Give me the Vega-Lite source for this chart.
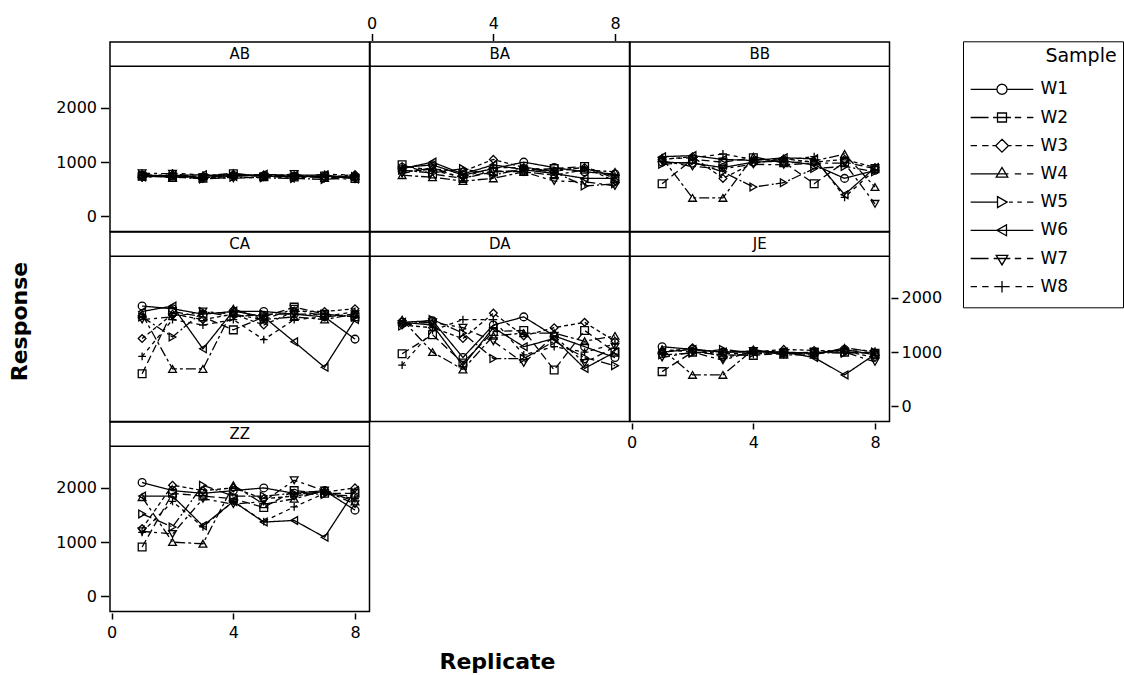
{
"$schema":"https://vega.github.io/schema/vega-lite/v6.json",
"padding":{"left":7,"top":14,"right":1,"bottom":4},
"background":"white",
"config":{
 "view":{"stroke":"black","strokeWidth":1.5},
 "axis":{"domain":false,"grid":false,"ticks":true,"tickColor":"black","tickWidth":1.5,"labelFont":"DejaVu Sans","labelFontSize":16,"labelColor":"black","titleFont":"DejaVu Sans","titleColor":"black","offset":1.5,"tickSize":7,"labelPadding":4}
},
"resolve":{"scale":{"shape":"independent","strokeDash":"independent"},"legend":{"shape":"independent"}},
"datasets":{"main":[
{"Panel":"AB","Sample":"W1","Replicate":1,"Response":760},{"Panel":"AB","Sample":"W1","Replicate":2,"Response":745},{"Panel":"AB","Sample":"W1","Replicate":3,"Response":720},{"Panel":"AB","Sample":"W1","Replicate":4,"Response":755},{"Panel":"AB","Sample":"W1","Replicate":5,"Response":745},{"Panel":"AB","Sample":"W1","Replicate":6,"Response":735},{"Panel":"AB","Sample":"W1","Replicate":7,"Response":740},{"Panel":"AB","Sample":"W1","Replicate":8,"Response":725},
{"Panel":"AB","Sample":"W2","Replicate":1,"Response":740},{"Panel":"AB","Sample":"W2","Replicate":2,"Response":720},{"Panel":"AB","Sample":"W2","Replicate":3,"Response":705},{"Panel":"AB","Sample":"W2","Replicate":4,"Response":785},{"Panel":"AB","Sample":"W2","Replicate":5,"Response":730},{"Panel":"AB","Sample":"W2","Replicate":6,"Response":725},{"Panel":"AB","Sample":"W2","Replicate":7,"Response":745},{"Panel":"AB","Sample":"W2","Replicate":8,"Response":700},
{"Panel":"AB","Sample":"W3","Replicate":1,"Response":720},{"Panel":"AB","Sample":"W3","Replicate":2,"Response":765},{"Panel":"AB","Sample":"W3","Replicate":3,"Response":700},{"Panel":"AB","Sample":"W3","Replicate":4,"Response":745},{"Panel":"AB","Sample":"W3","Replicate":5,"Response":765},{"Panel":"AB","Sample":"W3","Replicate":6,"Response":730},{"Panel":"AB","Sample":"W3","Replicate":7,"Response":720},{"Panel":"AB","Sample":"W3","Replicate":8,"Response":770},
{"Panel":"AB","Sample":"W4","Replicate":1,"Response":785},{"Panel":"AB","Sample":"W4","Replicate":2,"Response":705},{"Panel":"AB","Sample":"W4","Replicate":3,"Response":745},{"Panel":"AB","Sample":"W4","Replicate":4,"Response":795},{"Panel":"AB","Sample":"W4","Replicate":5,"Response":740},{"Panel":"AB","Sample":"W4","Replicate":6,"Response":760},{"Panel":"AB","Sample":"W4","Replicate":7,"Response":705},{"Panel":"AB","Sample":"W4","Replicate":8,"Response":745},
{"Panel":"AB","Sample":"W5","Replicate":1,"Response":750},{"Panel":"AB","Sample":"W5","Replicate":2,"Response":730},{"Panel":"AB","Sample":"W5","Replicate":3,"Response":690},{"Panel":"AB","Sample":"W5","Replicate":4,"Response":720},{"Panel":"AB","Sample":"W5","Replicate":5,"Response":710},{"Panel":"AB","Sample":"W5","Replicate":6,"Response":700},{"Panel":"AB","Sample":"W5","Replicate":7,"Response":680},{"Panel":"AB","Sample":"W5","Replicate":8,"Response":735},
{"Panel":"AB","Sample":"W6","Replicate":1,"Response":725},{"Panel":"AB","Sample":"W6","Replicate":2,"Response":755},{"Panel":"AB","Sample":"W6","Replicate":3,"Response":765},{"Panel":"AB","Sample":"W6","Replicate":4,"Response":735},{"Panel":"AB","Sample":"W6","Replicate":5,"Response":775},{"Panel":"AB","Sample":"W6","Replicate":6,"Response":755},{"Panel":"AB","Sample":"W6","Replicate":7,"Response":765},{"Panel":"AB","Sample":"W6","Replicate":8,"Response":690},
{"Panel":"AB","Sample":"W7","Replicate":1,"Response":795},{"Panel":"AB","Sample":"W7","Replicate":2,"Response":785},{"Panel":"AB","Sample":"W7","Replicate":3,"Response":720},{"Panel":"AB","Sample":"W7","Replicate":4,"Response":700},{"Panel":"AB","Sample":"W7","Replicate":5,"Response":725},{"Panel":"AB","Sample":"W7","Replicate":6,"Response":780},{"Panel":"AB","Sample":"W7","Replicate":7,"Response":700},{"Panel":"AB","Sample":"W7","Replicate":8,"Response":685},
{"Panel":"AB","Sample":"W8","Replicate":1,"Response":705},{"Panel":"AB","Sample":"W8","Replicate":2,"Response":800},{"Panel":"AB","Sample":"W8","Replicate":3,"Response":760},{"Panel":"AB","Sample":"W8","Replicate":4,"Response":770},{"Panel":"AB","Sample":"W8","Replicate":5,"Response":760},{"Panel":"AB","Sample":"W8","Replicate":6,"Response":690},{"Panel":"AB","Sample":"W8","Replicate":7,"Response":780},{"Panel":"AB","Sample":"W8","Replicate":8,"Response":755},
{"Panel":"BA","Sample":"W1","Replicate":1,"Response":900},{"Panel":"BA","Sample":"W1","Replicate":2,"Response":950},{"Panel":"BA","Sample":"W1","Replicate":3,"Response":760},{"Panel":"BA","Sample":"W1","Replicate":4,"Response":880},{"Panel":"BA","Sample":"W1","Replicate":5,"Response":1000},{"Panel":"BA","Sample":"W1","Replicate":6,"Response":900},{"Panel":"BA","Sample":"W1","Replicate":7,"Response":820},{"Panel":"BA","Sample":"W1","Replicate":8,"Response":780},
{"Panel":"BA","Sample":"W2","Replicate":1,"Response":950},{"Panel":"BA","Sample":"W2","Replicate":2,"Response":780},{"Panel":"BA","Sample":"W2","Replicate":3,"Response":700},{"Panel":"BA","Sample":"W2","Replicate":4,"Response":820},{"Panel":"BA","Sample":"W2","Replicate":5,"Response":850},{"Panel":"BA","Sample":"W2","Replicate":6,"Response":880},{"Panel":"BA","Sample":"W2","Replicate":7,"Response":920},{"Panel":"BA","Sample":"W2","Replicate":8,"Response":700},
{"Panel":"BA","Sample":"W3","Replicate":1,"Response":820},{"Panel":"BA","Sample":"W3","Replicate":2,"Response":870},{"Panel":"BA","Sample":"W3","Replicate":3,"Response":830},{"Panel":"BA","Sample":"W3","Replicate":4,"Response":1050},{"Panel":"BA","Sample":"W3","Replicate":5,"Response":900},{"Panel":"BA","Sample":"W3","Replicate":6,"Response":830},{"Panel":"BA","Sample":"W3","Replicate":7,"Response":900},{"Panel":"BA","Sample":"W3","Replicate":8,"Response":650},
{"Panel":"BA","Sample":"W4","Replicate":1,"Response":760},{"Panel":"BA","Sample":"W4","Replicate":2,"Response":720},{"Panel":"BA","Sample":"W4","Replicate":3,"Response":650},{"Panel":"BA","Sample":"W4","Replicate":4,"Response":700},{"Panel":"BA","Sample":"W4","Replicate":5,"Response":820},{"Panel":"BA","Sample":"W4","Replicate":6,"Response":760},{"Panel":"BA","Sample":"W4","Replicate":7,"Response":860},{"Panel":"BA","Sample":"W4","Replicate":8,"Response":820},
{"Panel":"BA","Sample":"W5","Replicate":1,"Response":850},{"Panel":"BA","Sample":"W5","Replicate":2,"Response":800},{"Panel":"BA","Sample":"W5","Replicate":3,"Response":880},{"Panel":"BA","Sample":"W5","Replicate":4,"Response":760},{"Panel":"BA","Sample":"W5","Replicate":5,"Response":880},{"Panel":"BA","Sample":"W5","Replicate":6,"Response":820},{"Panel":"BA","Sample":"W5","Replicate":7,"Response":560},{"Panel":"BA","Sample":"W5","Replicate":8,"Response":600},
{"Panel":"BA","Sample":"W6","Replicate":1,"Response":880},{"Panel":"BA","Sample":"W6","Replicate":2,"Response":1000},{"Panel":"BA","Sample":"W6","Replicate":3,"Response":780},{"Panel":"BA","Sample":"W6","Replicate":4,"Response":950},{"Panel":"BA","Sample":"W6","Replicate":5,"Response":860},{"Panel":"BA","Sample":"W6","Replicate":6,"Response":790},{"Panel":"BA","Sample":"W6","Replicate":7,"Response":700},{"Panel":"BA","Sample":"W6","Replicate":8,"Response":700},
{"Panel":"BA","Sample":"W7","Replicate":1,"Response":790},{"Panel":"BA","Sample":"W7","Replicate":2,"Response":900},{"Panel":"BA","Sample":"W7","Replicate":3,"Response":700},{"Panel":"BA","Sample":"W7","Replicate":4,"Response":840},{"Panel":"BA","Sample":"W7","Replicate":5,"Response":820},{"Panel":"BA","Sample":"W7","Replicate":6,"Response":650},{"Panel":"BA","Sample":"W7","Replicate":7,"Response":640},{"Panel":"BA","Sample":"W7","Replicate":8,"Response":560},
{"Panel":"BA","Sample":"W8","Replicate":1,"Response":930},{"Panel":"BA","Sample":"W8","Replicate":2,"Response":850},{"Panel":"BA","Sample":"W8","Replicate":3,"Response":720},{"Panel":"BA","Sample":"W8","Replicate":4,"Response":900},{"Panel":"BA","Sample":"W8","Replicate":5,"Response":900},{"Panel":"BA","Sample":"W8","Replicate":6,"Response":850},{"Panel":"BA","Sample":"W8","Replicate":7,"Response":900},{"Panel":"BA","Sample":"W8","Replicate":8,"Response":740},
{"Panel":"BB","Sample":"W1","Replicate":1,"Response":1000},{"Panel":"BB","Sample":"W1","Replicate":2,"Response":980},{"Panel":"BB","Sample":"W1","Replicate":3,"Response":900},{"Panel":"BB","Sample":"W1","Replicate":4,"Response":1000},{"Panel":"BB","Sample":"W1","Replicate":5,"Response":1020},{"Panel":"BB","Sample":"W1","Replicate":6,"Response":950},{"Panel":"BB","Sample":"W1","Replicate":7,"Response":700},{"Panel":"BB","Sample":"W1","Replicate":8,"Response":850},
{"Panel":"BB","Sample":"W2","Replicate":1,"Response":600},{"Panel":"BB","Sample":"W2","Replicate":2,"Response":1050},{"Panel":"BB","Sample":"W2","Replicate":3,"Response":1000},{"Panel":"BB","Sample":"W2","Replicate":4,"Response":1080},{"Panel":"BB","Sample":"W2","Replicate":5,"Response":1000},{"Panel":"BB","Sample":"W2","Replicate":6,"Response":600},{"Panel":"BB","Sample":"W2","Replicate":7,"Response":1000},{"Panel":"BB","Sample":"W2","Replicate":8,"Response":880},
{"Panel":"BB","Sample":"W3","Replicate":1,"Response":1050},{"Panel":"BB","Sample":"W3","Replicate":2,"Response":1100},{"Panel":"BB","Sample":"W3","Replicate":3,"Response":700},{"Panel":"BB","Sample":"W3","Replicate":4,"Response":980},{"Panel":"BB","Sample":"W3","Replicate":5,"Response":1060},{"Panel":"BB","Sample":"W3","Replicate":6,"Response":1000},{"Panel":"BB","Sample":"W3","Replicate":7,"Response":1050},{"Panel":"BB","Sample":"W3","Replicate":8,"Response":900},
{"Panel":"BB","Sample":"W4","Replicate":1,"Response":1080},{"Panel":"BB","Sample":"W4","Replicate":2,"Response":340},{"Panel":"BB","Sample":"W4","Replicate":3,"Response":340},{"Panel":"BB","Sample":"W4","Replicate":4,"Response":1100},{"Panel":"BB","Sample":"W4","Replicate":5,"Response":980},{"Panel":"BB","Sample":"W4","Replicate":6,"Response":1020},{"Panel":"BB","Sample":"W4","Replicate":7,"Response":1150},{"Panel":"BB","Sample":"W4","Replicate":8,"Response":540},
{"Panel":"BB","Sample":"W5","Replicate":1,"Response":960},{"Panel":"BB","Sample":"W5","Replicate":2,"Response":1000},{"Panel":"BB","Sample":"W5","Replicate":3,"Response":820},{"Panel":"BB","Sample":"W5","Replicate":4,"Response":540},{"Panel":"BB","Sample":"W5","Replicate":5,"Response":620},{"Panel":"BB","Sample":"W5","Replicate":6,"Response":880},{"Panel":"BB","Sample":"W5","Replicate":7,"Response":920},{"Panel":"BB","Sample":"W5","Replicate":8,"Response":820},
{"Panel":"BB","Sample":"W6","Replicate":1,"Response":1100},{"Panel":"BB","Sample":"W6","Replicate":2,"Response":1120},{"Panel":"BB","Sample":"W6","Replicate":3,"Response":1050},{"Panel":"BB","Sample":"W6","Replicate":4,"Response":1030},{"Panel":"BB","Sample":"W6","Replicate":5,"Response":1080},{"Panel":"BB","Sample":"W6","Replicate":6,"Response":1060},{"Panel":"BB","Sample":"W6","Replicate":7,"Response":400},{"Panel":"BB","Sample":"W6","Replicate":8,"Response":900},
{"Panel":"BB","Sample":"W7","Replicate":1,"Response":1020},{"Panel":"BB","Sample":"W7","Replicate":2,"Response":920},{"Panel":"BB","Sample":"W7","Replicate":3,"Response":880},{"Panel":"BB","Sample":"W7","Replicate":4,"Response":960},{"Panel":"BB","Sample":"W7","Replicate":5,"Response":950},{"Panel":"BB","Sample":"W7","Replicate":6,"Response":980},{"Panel":"BB","Sample":"W7","Replicate":7,"Response":980},{"Panel":"BB","Sample":"W7","Replicate":8,"Response":230},
{"Panel":"BB","Sample":"W8","Replicate":1,"Response":1060},{"Panel":"BB","Sample":"W8","Replicate":2,"Response":1080},{"Panel":"BB","Sample":"W8","Replicate":3,"Response":1150},{"Panel":"BB","Sample":"W8","Replicate":4,"Response":1050},{"Panel":"BB","Sample":"W8","Replicate":5,"Response":1040},{"Panel":"BB","Sample":"W8","Replicate":6,"Response":1100},{"Panel":"BB","Sample":"W8","Replicate":7,"Response":350},{"Panel":"BB","Sample":"W8","Replicate":8,"Response":860},
{"Panel":"CA","Sample":"W1","Replicate":1,"Response":1850},{"Panel":"CA","Sample":"W1","Replicate":2,"Response":1800},{"Panel":"CA","Sample":"W1","Replicate":3,"Response":1700},{"Panel":"CA","Sample":"W1","Replicate":4,"Response":1750},{"Panel":"CA","Sample":"W1","Replicate":5,"Response":1750},{"Panel":"CA","Sample":"W1","Replicate":6,"Response":1700},{"Panel":"CA","Sample":"W1","Replicate":7,"Response":1650},{"Panel":"CA","Sample":"W1","Replicate":8,"Response":1240},
{"Panel":"CA","Sample":"W2","Replicate":1,"Response":600},{"Panel":"CA","Sample":"W2","Replicate":2,"Response":1750},{"Panel":"CA","Sample":"W2","Replicate":3,"Response":1650},{"Panel":"CA","Sample":"W2","Replicate":4,"Response":1410},{"Panel":"CA","Sample":"W2","Replicate":5,"Response":1650},{"Panel":"CA","Sample":"W2","Replicate":6,"Response":1830},{"Panel":"CA","Sample":"W2","Replicate":7,"Response":1700},{"Panel":"CA","Sample":"W2","Replicate":8,"Response":1650},
{"Panel":"CA","Sample":"W3","Replicate":1,"Response":1250},{"Panel":"CA","Sample":"W3","Replicate":2,"Response":1700},{"Panel":"CA","Sample":"W3","Replicate":3,"Response":1600},{"Panel":"CA","Sample":"W3","Replicate":4,"Response":1700},{"Panel":"CA","Sample":"W3","Replicate":5,"Response":1500},{"Panel":"CA","Sample":"W3","Replicate":6,"Response":1750},{"Panel":"CA","Sample":"W3","Replicate":7,"Response":1750},{"Panel":"CA","Sample":"W3","Replicate":8,"Response":1800},
{"Panel":"CA","Sample":"W4","Replicate":1,"Response":1700},{"Panel":"CA","Sample":"W4","Replicate":2,"Response":690},{"Panel":"CA","Sample":"W4","Replicate":3,"Response":690},{"Panel":"CA","Sample":"W4","Replicate":4,"Response":1800},{"Panel":"CA","Sample":"W4","Replicate":5,"Response":1600},{"Panel":"CA","Sample":"W4","Replicate":6,"Response":1650},{"Panel":"CA","Sample":"W4","Replicate":7,"Response":1600},{"Panel":"CA","Sample":"W4","Replicate":8,"Response":1700},
{"Panel":"CA","Sample":"W5","Replicate":1,"Response":1650},{"Panel":"CA","Sample":"W5","Replicate":2,"Response":1280},{"Panel":"CA","Sample":"W5","Replicate":3,"Response":1750},{"Panel":"CA","Sample":"W5","Replicate":4,"Response":1650},{"Panel":"CA","Sample":"W5","Replicate":5,"Response":1700},{"Panel":"CA","Sample":"W5","Replicate":6,"Response":1700},{"Panel":"CA","Sample":"W5","Replicate":7,"Response":1700},{"Panel":"CA","Sample":"W5","Replicate":8,"Response":1650},
{"Panel":"CA","Sample":"W6","Replicate":1,"Response":1750},{"Panel":"CA","Sample":"W6","Replicate":2,"Response":1850},{"Panel":"CA","Sample":"W6","Replicate":3,"Response":1060},{"Panel":"CA","Sample":"W6","Replicate":4,"Response":1760},{"Panel":"CA","Sample":"W6","Replicate":5,"Response":1650},{"Panel":"CA","Sample":"W6","Replicate":6,"Response":1190},{"Panel":"CA","Sample":"W6","Replicate":7,"Response":720},{"Panel":"CA","Sample":"W6","Replicate":8,"Response":1600},
{"Panel":"CA","Sample":"W7","Replicate":1,"Response":1600},{"Panel":"CA","Sample":"W7","Replicate":2,"Response":1650},{"Panel":"CA","Sample":"W7","Replicate":3,"Response":1750},{"Panel":"CA","Sample":"W7","Replicate":4,"Response":1700},{"Panel":"CA","Sample":"W7","Replicate":5,"Response":1600},{"Panel":"CA","Sample":"W7","Replicate":6,"Response":1800},{"Panel":"CA","Sample":"W7","Replicate":7,"Response":1650},{"Panel":"CA","Sample":"W7","Replicate":8,"Response":1700},
{"Panel":"CA","Sample":"W8","Replicate":1,"Response":920},{"Panel":"CA","Sample":"W8","Replicate":2,"Response":1600},{"Panel":"CA","Sample":"W8","Replicate":3,"Response":1500},{"Panel":"CA","Sample":"W8","Replicate":4,"Response":1600},{"Panel":"CA","Sample":"W8","Replicate":5,"Response":1230},{"Panel":"CA","Sample":"W8","Replicate":6,"Response":1600},{"Panel":"CA","Sample":"W8","Replicate":7,"Response":1650},{"Panel":"CA","Sample":"W8","Replicate":8,"Response":1750},
{"Panel":"DA","Sample":"W1","Replicate":1,"Response":1550},{"Panel":"DA","Sample":"W1","Replicate":2,"Response":1580},{"Panel":"DA","Sample":"W1","Replicate":3,"Response":900},{"Panel":"DA","Sample":"W1","Replicate":4,"Response":1500},{"Panel":"DA","Sample":"W1","Replicate":5,"Response":1650},{"Panel":"DA","Sample":"W1","Replicate":6,"Response":1300},{"Panel":"DA","Sample":"W1","Replicate":7,"Response":1100},{"Panel":"DA","Sample":"W1","Replicate":8,"Response":900},
{"Panel":"DA","Sample":"W2","Replicate":1,"Response":970},{"Panel":"DA","Sample":"W2","Replicate":2,"Response":1320},{"Panel":"DA","Sample":"W2","Replicate":3,"Response":800},{"Panel":"DA","Sample":"W2","Replicate":4,"Response":1380},{"Panel":"DA","Sample":"W2","Replicate":5,"Response":1400},{"Panel":"DA","Sample":"W2","Replicate":6,"Response":670},{"Panel":"DA","Sample":"W2","Replicate":7,"Response":1400},{"Panel":"DA","Sample":"W2","Replicate":8,"Response":1000},
{"Panel":"DA","Sample":"W3","Replicate":1,"Response":1500},{"Panel":"DA","Sample":"W3","Replicate":2,"Response":1450},{"Panel":"DA","Sample":"W3","Replicate":3,"Response":1250},{"Panel":"DA","Sample":"W3","Replicate":4,"Response":1720},{"Panel":"DA","Sample":"W3","Replicate":5,"Response":1300},{"Panel":"DA","Sample":"W3","Replicate":6,"Response":1450},{"Panel":"DA","Sample":"W3","Replicate":7,"Response":1550},{"Panel":"DA","Sample":"W3","Replicate":8,"Response":1200},
{"Panel":"DA","Sample":"W4","Replicate":1,"Response":1600},{"Panel":"DA","Sample":"W4","Replicate":2,"Response":1000},{"Panel":"DA","Sample":"W4","Replicate":3,"Response":680},{"Panel":"DA","Sample":"W4","Replicate":4,"Response":1300},{"Panel":"DA","Sample":"W4","Replicate":5,"Response":1350},{"Panel":"DA","Sample":"W4","Replicate":6,"Response":1350},{"Panel":"DA","Sample":"W4","Replicate":7,"Response":1200},{"Panel":"DA","Sample":"W4","Replicate":8,"Response":1300},
{"Panel":"DA","Sample":"W5","Replicate":1,"Response":1480},{"Panel":"DA","Sample":"W5","Replicate":2,"Response":1600},{"Panel":"DA","Sample":"W5","Replicate":3,"Response":1350},{"Panel":"DA","Sample":"W5","Replicate":4,"Response":880},{"Panel":"DA","Sample":"W5","Replicate":5,"Response":880},{"Panel":"DA","Sample":"W5","Replicate":6,"Response":1200},{"Panel":"DA","Sample":"W5","Replicate":7,"Response":900},{"Panel":"DA","Sample":"W5","Replicate":8,"Response":750},
{"Panel":"DA","Sample":"W6","Replicate":1,"Response":1550},{"Panel":"DA","Sample":"W6","Replicate":2,"Response":1500},{"Panel":"DA","Sample":"W6","Replicate":3,"Response":750},{"Panel":"DA","Sample":"W6","Replicate":4,"Response":1450},{"Panel":"DA","Sample":"W6","Replicate":5,"Response":1100},{"Panel":"DA","Sample":"W6","Replicate":6,"Response":1250},{"Panel":"DA","Sample":"W6","Replicate":7,"Response":700},{"Panel":"DA","Sample":"W6","Replicate":8,"Response":1000},
{"Panel":"DA","Sample":"W7","Replicate":1,"Response":1520},{"Panel":"DA","Sample":"W7","Replicate":2,"Response":1550},{"Panel":"DA","Sample":"W7","Replicate":3,"Response":1450},{"Panel":"DA","Sample":"W7","Replicate":4,"Response":1200},{"Panel":"DA","Sample":"W7","Replicate":5,"Response":800},{"Panel":"DA","Sample":"W7","Replicate":6,"Response":1300},{"Panel":"DA","Sample":"W7","Replicate":7,"Response":800},{"Panel":"DA","Sample":"W7","Replicate":8,"Response":1100},
{"Panel":"DA","Sample":"W8","Replicate":1,"Response":760},{"Panel":"DA","Sample":"W8","Replicate":2,"Response":1400},{"Panel":"DA","Sample":"W8","Replicate":3,"Response":1600},{"Panel":"DA","Sample":"W8","Replicate":4,"Response":1600},{"Panel":"DA","Sample":"W8","Replicate":5,"Response":950},{"Panel":"DA","Sample":"W8","Replicate":6,"Response":1100},{"Panel":"DA","Sample":"W8","Replicate":7,"Response":1000},{"Panel":"DA","Sample":"W8","Replicate":8,"Response":1150},
{"Panel":"JE","Sample":"W1","Replicate":1,"Response":1100},{"Panel":"JE","Sample":"W1","Replicate":2,"Response":1050},{"Panel":"JE","Sample":"W1","Replicate":3,"Response":1000},{"Panel":"JE","Sample":"W1","Replicate":4,"Response":1020},{"Panel":"JE","Sample":"W1","Replicate":5,"Response":1000},{"Panel":"JE","Sample":"W1","Replicate":6,"Response":980},{"Panel":"JE","Sample":"W1","Replicate":7,"Response":1050},{"Panel":"JE","Sample":"W1","Replicate":8,"Response":950},
{"Panel":"JE","Sample":"W2","Replicate":1,"Response":640},{"Panel":"JE","Sample":"W2","Replicate":2,"Response":1000},{"Panel":"JE","Sample":"W2","Replicate":3,"Response":950},{"Panel":"JE","Sample":"W2","Replicate":4,"Response":940},{"Panel":"JE","Sample":"W2","Replicate":5,"Response":980},{"Panel":"JE","Sample":"W2","Replicate":6,"Response":1000},{"Panel":"JE","Sample":"W2","Replicate":7,"Response":1000},{"Panel":"JE","Sample":"W2","Replicate":8,"Response":980},
{"Panel":"JE","Sample":"W3","Replicate":1,"Response":1000},{"Panel":"JE","Sample":"W3","Replicate":2,"Response":1080},{"Panel":"JE","Sample":"W3","Replicate":3,"Response":900},{"Panel":"JE","Sample":"W3","Replicate":4,"Response":1000},{"Panel":"JE","Sample":"W3","Replicate":5,"Response":1050},{"Panel":"JE","Sample":"W3","Replicate":6,"Response":1030},{"Panel":"JE","Sample":"W3","Replicate":7,"Response":1020},{"Panel":"JE","Sample":"W3","Replicate":8,"Response":900},
{"Panel":"JE","Sample":"W4","Replicate":1,"Response":1050},{"Panel":"JE","Sample":"W4","Replicate":2,"Response":580},{"Panel":"JE","Sample":"W4","Replicate":3,"Response":580},{"Panel":"JE","Sample":"W4","Replicate":4,"Response":1050},{"Panel":"JE","Sample":"W4","Replicate":5,"Response":950},{"Panel":"JE","Sample":"W4","Replicate":6,"Response":950},{"Panel":"JE","Sample":"W4","Replicate":7,"Response":1080},{"Panel":"JE","Sample":"W4","Replicate":8,"Response":1000},
{"Panel":"JE","Sample":"W5","Replicate":1,"Response":950},{"Panel":"JE","Sample":"W5","Replicate":2,"Response":980},{"Panel":"JE","Sample":"W5","Replicate":3,"Response":1050},{"Panel":"JE","Sample":"W5","Replicate":4,"Response":980},{"Panel":"JE","Sample":"W5","Replicate":5,"Response":980},{"Panel":"JE","Sample":"W5","Replicate":6,"Response":990},{"Panel":"JE","Sample":"W5","Replicate":7,"Response":980},{"Panel":"JE","Sample":"W5","Replicate":8,"Response":1000},
{"Panel":"JE","Sample":"W6","Replicate":1,"Response":1000},{"Panel":"JE","Sample":"W6","Replicate":2,"Response":1050},{"Panel":"JE","Sample":"W6","Replicate":3,"Response":1000},{"Panel":"JE","Sample":"W6","Replicate":4,"Response":1000},{"Panel":"JE","Sample":"W6","Replicate":5,"Response":1000},{"Panel":"JE","Sample":"W6","Replicate":6,"Response":900},{"Panel":"JE","Sample":"W6","Replicate":7,"Response":580},{"Panel":"JE","Sample":"W6","Replicate":8,"Response":960},
{"Panel":"JE","Sample":"W7","Replicate":1,"Response":900},{"Panel":"JE","Sample":"W7","Replicate":2,"Response":1000},{"Panel":"JE","Sample":"W7","Replicate":3,"Response":850},{"Panel":"JE","Sample":"W7","Replicate":4,"Response":1020},{"Panel":"JE","Sample":"W7","Replicate":5,"Response":960},{"Panel":"JE","Sample":"W7","Replicate":6,"Response":1000},{"Panel":"JE","Sample":"W7","Replicate":7,"Response":1000},{"Panel":"JE","Sample":"W7","Replicate":8,"Response":820},
{"Panel":"JE","Sample":"W8","Replicate":1,"Response":1050},{"Panel":"JE","Sample":"W8","Replicate":2,"Response":1000},{"Panel":"JE","Sample":"W8","Replicate":3,"Response":980},{"Panel":"JE","Sample":"W8","Replicate":4,"Response":960},{"Panel":"JE","Sample":"W8","Replicate":5,"Response":1000},{"Panel":"JE","Sample":"W8","Replicate":6,"Response":960},{"Panel":"JE","Sample":"W8","Replicate":7,"Response":1050},{"Panel":"JE","Sample":"W8","Replicate":8,"Response":1020},
{"Panel":"ZZ","Sample":"W1","Replicate":1,"Response":2100},{"Panel":"ZZ","Sample":"W1","Replicate":2,"Response":1950},{"Panel":"ZZ","Sample":"W1","Replicate":3,"Response":1900},{"Panel":"ZZ","Sample":"W1","Replicate":4,"Response":1950},{"Panel":"ZZ","Sample":"W1","Replicate":5,"Response":2000},{"Panel":"ZZ","Sample":"W1","Replicate":6,"Response":1900},{"Panel":"ZZ","Sample":"W1","Replicate":7,"Response":1950},{"Panel":"ZZ","Sample":"W1","Replicate":8,"Response":1590},
{"Panel":"ZZ","Sample":"W2","Replicate":1,"Response":910},{"Panel":"ZZ","Sample":"W2","Replicate":2,"Response":1900},{"Panel":"ZZ","Sample":"W2","Replicate":3,"Response":1850},{"Panel":"ZZ","Sample":"W2","Replicate":4,"Response":1800},{"Panel":"ZZ","Sample":"W2","Replicate":5,"Response":1640},{"Panel":"ZZ","Sample":"W2","Replicate":6,"Response":1950},{"Panel":"ZZ","Sample":"W2","Replicate":7,"Response":1900},{"Panel":"ZZ","Sample":"W2","Replicate":8,"Response":1900},
{"Panel":"ZZ","Sample":"W3","Replicate":1,"Response":1250},{"Panel":"ZZ","Sample":"W3","Replicate":2,"Response":2050},{"Panel":"ZZ","Sample":"W3","Replicate":3,"Response":1950},{"Panel":"ZZ","Sample":"W3","Replicate":4,"Response":2000},{"Panel":"ZZ","Sample":"W3","Replicate":5,"Response":1800},{"Panel":"ZZ","Sample":"W3","Replicate":6,"Response":1850},{"Panel":"ZZ","Sample":"W3","Replicate":7,"Response":1920},{"Panel":"ZZ","Sample":"W3","Replicate":8,"Response":2000},
{"Panel":"ZZ","Sample":"W4","Replicate":1,"Response":1830},{"Panel":"ZZ","Sample":"W4","Replicate":2,"Response":1000},{"Panel":"ZZ","Sample":"W4","Replicate":3,"Response":970},{"Panel":"ZZ","Sample":"W4","Replicate":4,"Response":2050},{"Panel":"ZZ","Sample":"W4","Replicate":5,"Response":1700},{"Panel":"ZZ","Sample":"W4","Replicate":6,"Response":1800},{"Panel":"ZZ","Sample":"W4","Replicate":7,"Response":1950},{"Panel":"ZZ","Sample":"W4","Replicate":8,"Response":1750},
{"Panel":"ZZ","Sample":"W5","Replicate":1,"Response":1520},{"Panel":"ZZ","Sample":"W5","Replicate":2,"Response":1280},{"Panel":"ZZ","Sample":"W5","Replicate":3,"Response":2050},{"Panel":"ZZ","Sample":"W5","Replicate":4,"Response":1850},{"Panel":"ZZ","Sample":"W5","Replicate":5,"Response":1850},{"Panel":"ZZ","Sample":"W5","Replicate":6,"Response":1900},{"Panel":"ZZ","Sample":"W5","Replicate":7,"Response":1880},{"Panel":"ZZ","Sample":"W5","Replicate":8,"Response":1850},
{"Panel":"ZZ","Sample":"W6","Replicate":1,"Response":1850},{"Panel":"ZZ","Sample":"W6","Replicate":2,"Response":1850},{"Panel":"ZZ","Sample":"W6","Replicate":3,"Response":1300},{"Panel":"ZZ","Sample":"W6","Replicate":4,"Response":1750},{"Panel":"ZZ","Sample":"W6","Replicate":5,"Response":1370},{"Panel":"ZZ","Sample":"W6","Replicate":6,"Response":1400},{"Panel":"ZZ","Sample":"W6","Replicate":7,"Response":1090},{"Panel":"ZZ","Sample":"W6","Replicate":8,"Response":1950},
{"Panel":"ZZ","Sample":"W7","Replicate":1,"Response":1200},{"Panel":"ZZ","Sample":"W7","Replicate":2,"Response":1150},{"Panel":"ZZ","Sample":"W7","Replicate":3,"Response":1800},{"Panel":"ZZ","Sample":"W7","Replicate":4,"Response":1700},{"Panel":"ZZ","Sample":"W7","Replicate":5,"Response":1750},{"Panel":"ZZ","Sample":"W7","Replicate":6,"Response":2140},{"Panel":"ZZ","Sample":"W7","Replicate":7,"Response":1950},{"Panel":"ZZ","Sample":"W7","Replicate":8,"Response":1700},
{"Panel":"ZZ","Sample":"W8","Replicate":1,"Response":1180},{"Panel":"ZZ","Sample":"W8","Replicate":2,"Response":1750},{"Panel":"ZZ","Sample":"W8","Replicate":3,"Response":1280},{"Panel":"ZZ","Sample":"W8","Replicate":4,"Response":1750},{"Panel":"ZZ","Sample":"W8","Replicate":5,"Response":1380},{"Panel":"ZZ","Sample":"W8","Replicate":6,"Response":1650},{"Panel":"ZZ","Sample":"W8","Replicate":7,"Response":1900},{"Panel":"ZZ","Sample":"W8","Replicate":8,"Response":1800}
]},
"columns":3,"spacing":0,"bounds":"flush",
"concat":[
{"width":259.5,"height":189.5,"data":{"name":"main"},"transform":[{"filter":"datum.Panel === 'AB'"}],
 "resolve":{"scale":{"shape":"independent"},"legend":{"shape":"independent"}},
 "layer":[
  {"mark":{"type":"line","color":"black","strokeWidth":1.3},
   "encoding":{"x":{"field":"Replicate","type":"quantitative","scale":{"domain":[-0.056,8.477],"nice":false,"zero":false},"axis":null},
    "y":{"field":"Response","type":"quantitative","scale":{"domain":[-280,3216],"nice":false,"zero":false},"axis":{"orient":"left","values":[0,1000,2000],"format":"d","title":null,"tickSize":8}},
    "strokeDash":{"field":"Sample","type":"nominal","scale":{"domain":["W1","W2","W3","W4","W5","W6","W7","W8"],"range":[[1,0],[8,4],[4,3],[10,3,3,3],[10,3,2,2],[1,0],[8,4,3,4],[4,4]]},"legend":null}}},
  {"mark":{"type":"point","filled":false,"color":"black","size":60,"strokeWidth":1.3,"opacity":1},
   "encoding":{"x":{"field":"Replicate","type":"quantitative","scale":{"domain":[-0.056,8.477],"nice":false,"zero":false},"axis":null},
    "y":{"field":"Response","type":"quantitative","scale":{"domain":[-280,3216],"nice":false,"zero":false},"axis":{"orient":"left","values":[0,1000,2000],"format":"d","title":null,"tickSize":8}},
    "shape":{"field":"Sample","type":"nominal","scale":{"domain":["W1","W2","W3","W4","W5","W6","W7","W8"],"range":["circle","square","diamond","triangle-up","triangle-right","triangle-left","triangle-down","M-1,0H1M0,-1V1"]},"legend":null}}},
  {"mark":{"type":"point","filled":false,"color":"black","size":10,"strokeWidth":1.3,"opacity":0},
   "encoding":{"x":{"field":"Replicate","type":"quantitative","scale":{"domain":[-0.056,8.477],"nice":false,"zero":false},"axis":null},
    "y":{"field":"Response","type":"quantitative","scale":{"domain":[-280,3216],"nice":false,"zero":false},"axis":{"orient":"left","values":[0,1000,2000],"format":"d","title":null,"tickSize":8}},
    "shape":{"field":"Sample","type":"nominal","scale":{"domain":["W1","W2","W3","W4","W5","W6","W7","W8"],"range":[
      "M-0.98,0H-0.16M0.16,0H0.98M0.16,0L0.139,0.08L0.08,0.139L0,0.16L-0.08,0.139L-0.139,0.08L-0.16,0L-0.139,-0.08L-0.08,-0.139L0,-0.16L0.08,-0.139L0.139,-0.08Z",
      "M-0.98,0H-0.42M-0.28,0H0.28M-0.14,-0.14H0.14V0.14H-0.14ZM0.4,0H0.6M0.78,0H0.98",
      "M-0.98,0H-0.78M-0.62,0H-0.42M-0.3,0H-0.2M0.2,0H0.3M0.42,0H0.62M0.78,0H0.98M0,-0.2L0.2,0L0,0.2L-0.2,0Z",
      "M-0.98,0H0.2M-0.18,0.1L0,-0.2L0.18,0.1ZM0.4,0H0.6M0.78,0H0.98",
      "M-0.98,0H-0.14M-0.14,-0.17L0.16,0L-0.14,0.17ZM0.22,0H0.34M0.48,0H0.62M0.78,0H0.98",
      "M-0.98,0H0.98M0.14,-0.17L-0.16,0L0.14,0.17Z",
      "M-0.98,0H-0.42M-0.26,0H0.26M-0.18,-0.1L0,0.2L0.18,-0.1ZM0.4,0H0.6M0.78,0H0.98",
      "M-0.98,0H-0.78M-0.62,0H-0.42M-0.24,0H0.24M0,-0.18V0.18M0.42,0H0.62M0.78,0H0.98"]},
     "legend":{"title":"Sample","orient":"none","legendX":853,"legendY":-0.7,"padding":6,"strokeColor":"black","fillColor":"white",
      "titleFont":"DejaVu Sans","titleFontSize":19,"titleFontWeight":"normal","titleColor":"black","titleAnchor":"end","titleAlign":"center","titleBaseline":"top","titlePadding":9,
      "labelFont":"DejaVu Sans","labelFontSize":17,"labelColor":"black","labelOffset":5.5,"labelBaseline":"middle",
      "labelExpr":"datum.label + '\u2800'",
      "symbolSize":4096,"symbolStrokeWidth":1.3,"symbolStrokeColor":"black","symbolFillColor":"transparent","symbolOpacity":1,"clipHeight":28,"rowPadding":0.2}}}},
  {"data":{"values":[{"Panel":"AB"}]},"mark":{"type":"rule","color":"black","strokeWidth":1.5},
   "encoding":{"y":{"datum":2768,"type":"quantitative","scale":{"domain":[-280,3216],"nice":false,"zero":false},"axis":{"orient":"left","values":[0,1000,2000],"format":"d","title":null,"tickSize":8}}}},
  {"data":{"values":[{"Panel":"AB"}]},"mark":{"type":"text","font":"DejaVu Sans","fontSize":15,"color":"black","baseline":"middle","align":"center"},
   "encoding":{"x":{"datum":4.21,"type":"quantitative","scale":{"domain":[-0.056,8.477],"nice":false,"zero":false},"axis":null},"y":{"datum":2992,"type":"quantitative","scale":{"domain":[-280,3216],"nice":false,"zero":false},"axis":{"orient":"left","values":[0,1000,2000],"format":"d","title":null,"tickSize":8}},"text":{"field":"Panel"}}}
 ]},
{"width":259.5,"height":189.5,"data":{"name":"main"},"transform":[{"filter":"datum.Panel === 'BA'"}],
 "layer":[
  {"mark":{"type":"line","color":"black","strokeWidth":1.3},
   "encoding":{"x":{"field":"Replicate","type":"quantitative","scale":{"domain":[-0.056,8.477],"nice":false,"zero":false},"axis":{"orient":"top","values":[0,4,8],"title":null,"tickSize":7,"labelPadding":2}},
    "y":{"field":"Response","type":"quantitative","scale":{"domain":[-280,3216],"nice":false,"zero":false},"axis":null},
    "strokeDash":{"field":"Sample","type":"nominal","scale":{"domain":["W1","W2","W3","W4","W5","W6","W7","W8"],"range":[[1,0],[8,4],[4,3],[10,3,3,3],[10,3,2,2],[1,0],[8,4,3,4],[4,4]]},"legend":null}}},
  {"mark":{"type":"point","filled":false,"color":"black","size":60,"strokeWidth":1.3,"opacity":1},
   "encoding":{"x":{"field":"Replicate","type":"quantitative","scale":{"domain":[-0.056,8.477],"nice":false,"zero":false},"axis":{"orient":"top","values":[0,4,8],"title":null,"tickSize":7,"labelPadding":2}},
    "y":{"field":"Response","type":"quantitative","scale":{"domain":[-280,3216],"nice":false,"zero":false},"axis":null},
    "shape":{"field":"Sample","type":"nominal","scale":{"domain":["W1","W2","W3","W4","W5","W6","W7","W8"],"range":["circle","square","diamond","triangle-up","triangle-right","triangle-left","triangle-down","M-1,0H1M0,-1V1"]},"legend":null}}},
  {"data":{"values":[{"Panel":"BA"}]},"mark":{"type":"rule","color":"black","strokeWidth":1.5},
   "encoding":{"y":{"datum":2768,"type":"quantitative","scale":{"domain":[-280,3216],"nice":false,"zero":false},"axis":null}}},
  {"data":{"values":[{"Panel":"BA"}]},"mark":{"type":"text","font":"DejaVu Sans","fontSize":15,"color":"black","baseline":"middle","align":"center"},
   "encoding":{"x":{"datum":4.21,"type":"quantitative","scale":{"domain":[-0.056,8.477],"nice":false,"zero":false},"axis":{"orient":"top","values":[0,4,8],"title":null,"tickSize":7,"labelPadding":2}},"y":{"datum":2992,"type":"quantitative","scale":{"domain":[-280,3216],"nice":false,"zero":false},"axis":null},"text":{"field":"Panel"}}}
 ]},
{"width":259.5,"height":189.5,"data":{"name":"main"},"transform":[{"filter":"datum.Panel === 'BB'"}],
 "layer":[
  {"mark":{"type":"line","color":"black","strokeWidth":1.3},
   "encoding":{"x":{"field":"Replicate","type":"quantitative","scale":{"domain":[-0.056,8.477],"nice":false,"zero":false},"axis":null},
    "y":{"field":"Response","type":"quantitative","scale":{"domain":[-280,3216],"nice":false,"zero":false},"axis":null},
    "strokeDash":{"field":"Sample","type":"nominal","scale":{"domain":["W1","W2","W3","W4","W5","W6","W7","W8"],"range":[[1,0],[8,4],[4,3],[10,3,3,3],[10,3,2,2],[1,0],[8,4,3,4],[4,4]]},"legend":null}}},
  {"mark":{"type":"point","filled":false,"color":"black","size":60,"strokeWidth":1.3,"opacity":1},
   "encoding":{"x":{"field":"Replicate","type":"quantitative","scale":{"domain":[-0.056,8.477],"nice":false,"zero":false},"axis":null},
    "y":{"field":"Response","type":"quantitative","scale":{"domain":[-280,3216],"nice":false,"zero":false},"axis":null},
    "shape":{"field":"Sample","type":"nominal","scale":{"domain":["W1","W2","W3","W4","W5","W6","W7","W8"],"range":["circle","square","diamond","triangle-up","triangle-right","triangle-left","triangle-down","M-1,0H1M0,-1V1"]},"legend":null}}},
  {"data":{"values":[{"Panel":"BB"}]},"mark":{"type":"rule","color":"black","strokeWidth":1.5},
   "encoding":{"y":{"datum":2768,"type":"quantitative","scale":{"domain":[-280,3216],"nice":false,"zero":false},"axis":null}}},
  {"data":{"values":[{"Panel":"BB"}]},"mark":{"type":"text","font":"DejaVu Sans","fontSize":15,"color":"black","baseline":"middle","align":"center"},
   "encoding":{"x":{"datum":4.21,"type":"quantitative","scale":{"domain":[-0.056,8.477],"nice":false,"zero":false},"axis":null},"y":{"datum":2992,"type":"quantitative","scale":{"domain":[-280,3216],"nice":false,"zero":false},"axis":null},"text":{"field":"Panel"}}}
 ]},
{"width":259.5,"height":189.5,"data":{"name":"main"},"transform":[{"filter":"datum.Panel === 'CA'"}],
 "layer":[
  {"mark":{"type":"line","color":"black","strokeWidth":1.3},
   "encoding":{"x":{"field":"Replicate","type":"quantitative","scale":{"domain":[-0.056,8.477],"nice":false,"zero":false},"axis":null},
    "y":{"field":"Response","type":"quantitative","scale":{"domain":[-280,3216],"nice":false,"zero":false},"axis":{"orient":"left","labels":false,"ticks":false,"title":"Response","titleX":-82,"titleY":89,"titleAngle":270,"titleBaseline":"alphabetic","titleAlign":"center","titleFontSize":22,"titleFontWeight":"bold"}},
    "strokeDash":{"field":"Sample","type":"nominal","scale":{"domain":["W1","W2","W3","W4","W5","W6","W7","W8"],"range":[[1,0],[8,4],[4,3],[10,3,3,3],[10,3,2,2],[1,0],[8,4,3,4],[4,4]]},"legend":null}}},
  {"mark":{"type":"point","filled":false,"color":"black","size":60,"strokeWidth":1.3,"opacity":1},
   "encoding":{"x":{"field":"Replicate","type":"quantitative","scale":{"domain":[-0.056,8.477],"nice":false,"zero":false},"axis":null},
    "y":{"field":"Response","type":"quantitative","scale":{"domain":[-280,3216],"nice":false,"zero":false},"axis":{"orient":"left","labels":false,"ticks":false,"title":"Response","titleX":-82,"titleY":89,"titleAngle":270,"titleBaseline":"alphabetic","titleAlign":"center","titleFontSize":22,"titleFontWeight":"bold"}},
    "shape":{"field":"Sample","type":"nominal","scale":{"domain":["W1","W2","W3","W4","W5","W6","W7","W8"],"range":["circle","square","diamond","triangle-up","triangle-right","triangle-left","triangle-down","M-1,0H1M0,-1V1"]},"legend":null}}},
  {"data":{"values":[{"Panel":"CA"}]},"mark":{"type":"rule","color":"black","strokeWidth":1.5},
   "encoding":{"y":{"datum":2768,"type":"quantitative","scale":{"domain":[-280,3216],"nice":false,"zero":false},"axis":{"orient":"left","labels":false,"ticks":false,"title":"Response","titleX":-82,"titleY":89,"titleAngle":270,"titleBaseline":"alphabetic","titleAlign":"center","titleFontSize":22,"titleFontWeight":"bold"}}}},
  {"data":{"values":[{"Panel":"CA"}]},"mark":{"type":"text","font":"DejaVu Sans","fontSize":15,"color":"black","baseline":"middle","align":"center"},
   "encoding":{"x":{"datum":4.21,"type":"quantitative","scale":{"domain":[-0.056,8.477],"nice":false,"zero":false},"axis":null},"y":{"datum":2992,"type":"quantitative","scale":{"domain":[-280,3216],"nice":false,"zero":false},"axis":{"orient":"left","labels":false,"ticks":false,"title":"Response","titleX":-82,"titleY":89,"titleAngle":270,"titleBaseline":"alphabetic","titleAlign":"center","titleFontSize":22,"titleFontWeight":"bold"}},"text":{"field":"Panel"}}}
 ]},
{"width":259.5,"height":189.5,"data":{"name":"main"},"transform":[{"filter":"datum.Panel === 'DA'"}],
 "layer":[
  {"mark":{"type":"line","color":"black","strokeWidth":1.3},
   "encoding":{"x":{"field":"Replicate","type":"quantitative","scale":{"domain":[-0.056,8.477],"nice":false,"zero":false},"axis":null},
    "y":{"field":"Response","type":"quantitative","scale":{"domain":[-280,3216],"nice":false,"zero":false},"axis":null},
    "strokeDash":{"field":"Sample","type":"nominal","scale":{"domain":["W1","W2","W3","W4","W5","W6","W7","W8"],"range":[[1,0],[8,4],[4,3],[10,3,3,3],[10,3,2,2],[1,0],[8,4,3,4],[4,4]]},"legend":null}}},
  {"mark":{"type":"point","filled":false,"color":"black","size":60,"strokeWidth":1.3,"opacity":1},
   "encoding":{"x":{"field":"Replicate","type":"quantitative","scale":{"domain":[-0.056,8.477],"nice":false,"zero":false},"axis":null},
    "y":{"field":"Response","type":"quantitative","scale":{"domain":[-280,3216],"nice":false,"zero":false},"axis":null},
    "shape":{"field":"Sample","type":"nominal","scale":{"domain":["W1","W2","W3","W4","W5","W6","W7","W8"],"range":["circle","square","diamond","triangle-up","triangle-right","triangle-left","triangle-down","M-1,0H1M0,-1V1"]},"legend":null}}},
  {"data":{"values":[{"Panel":"DA"}]},"mark":{"type":"rule","color":"black","strokeWidth":1.5},
   "encoding":{"y":{"datum":2768,"type":"quantitative","scale":{"domain":[-280,3216],"nice":false,"zero":false},"axis":null}}},
  {"data":{"values":[{"Panel":"DA"}]},"mark":{"type":"text","font":"DejaVu Sans","fontSize":15,"color":"black","baseline":"middle","align":"center"},
   "encoding":{"x":{"datum":4.21,"type":"quantitative","scale":{"domain":[-0.056,8.477],"nice":false,"zero":false},"axis":null},"y":{"datum":2992,"type":"quantitative","scale":{"domain":[-280,3216],"nice":false,"zero":false},"axis":null},"text":{"field":"Panel"}}}
 ]},
{"width":259.5,"height":189.5,"data":{"name":"main"},"transform":[{"filter":"datum.Panel === 'JE'"}],
 "layer":[
  {"mark":{"type":"line","color":"black","strokeWidth":1.3},
   "encoding":{"x":{"field":"Replicate","type":"quantitative","scale":{"domain":[-0.056,8.477],"nice":false,"zero":false},"axis":{"orient":"bottom","values":[0,4,8],"title":null,"tickSize":6,"labelPadding":5}},
    "y":{"field":"Response","type":"quantitative","scale":{"domain":[-280,3216],"nice":false,"zero":false},"axis":{"orient":"right","values":[0,1000,2000],"format":"d","title":null,"tickSize":7,"labelPadding":3}},
    "strokeDash":{"field":"Sample","type":"nominal","scale":{"domain":["W1","W2","W3","W4","W5","W6","W7","W8"],"range":[[1,0],[8,4],[4,3],[10,3,3,3],[10,3,2,2],[1,0],[8,4,3,4],[4,4]]},"legend":null}}},
  {"mark":{"type":"point","filled":false,"color":"black","size":60,"strokeWidth":1.3,"opacity":1},
   "encoding":{"x":{"field":"Replicate","type":"quantitative","scale":{"domain":[-0.056,8.477],"nice":false,"zero":false},"axis":{"orient":"bottom","values":[0,4,8],"title":null,"tickSize":6,"labelPadding":5}},
    "y":{"field":"Response","type":"quantitative","scale":{"domain":[-280,3216],"nice":false,"zero":false},"axis":{"orient":"right","values":[0,1000,2000],"format":"d","title":null,"tickSize":7,"labelPadding":3}},
    "shape":{"field":"Sample","type":"nominal","scale":{"domain":["W1","W2","W3","W4","W5","W6","W7","W8"],"range":["circle","square","diamond","triangle-up","triangle-right","triangle-left","triangle-down","M-1,0H1M0,-1V1"]},"legend":null}}},
  {"data":{"values":[{"Panel":"JE"}]},"mark":{"type":"rule","color":"black","strokeWidth":1.5},
   "encoding":{"y":{"datum":2768,"type":"quantitative","scale":{"domain":[-280,3216],"nice":false,"zero":false},"axis":{"orient":"right","values":[0,1000,2000],"format":"d","title":null,"tickSize":7,"labelPadding":3}}}},
  {"data":{"values":[{"Panel":"JE"}]},"mark":{"type":"text","font":"DejaVu Sans","fontSize":15,"color":"black","baseline":"middle","align":"center"},
   "encoding":{"x":{"datum":4.21,"type":"quantitative","scale":{"domain":[-0.056,8.477],"nice":false,"zero":false},"axis":{"orient":"bottom","values":[0,4,8],"title":null,"tickSize":6,"labelPadding":5}},"y":{"datum":2992,"type":"quantitative","scale":{"domain":[-280,3216],"nice":false,"zero":false},"axis":{"orient":"right","values":[0,1000,2000],"format":"d","title":null,"tickSize":7,"labelPadding":3}},"text":{"field":"Panel"}}}
 ]},
{"width":259.5,"height":189.5,"data":{"name":"main"},"transform":[{"filter":"datum.Panel === 'ZZ'"}],
 "layer":[
  {"mark":{"type":"line","color":"black","strokeWidth":1.3},
   "encoding":{"x":{"field":"Replicate","type":"quantitative","scale":{"domain":[-0.056,8.477],"nice":false,"zero":false},"axis":{"orient":"bottom","values":[0,4,8],"tickSize":6,"labelPadding":5,"title":"Replicate","titleX":387,"titleY":55,"titleAngle":0,"titleBaseline":"alphabetic","titleAlign":"center","titleFontSize":22,"titleFontWeight":"bold"}},
    "y":{"field":"Response","type":"quantitative","scale":{"domain":[-280,3216],"nice":false,"zero":false},"axis":{"orient":"left","values":[0,1000,2000],"format":"d","title":null,"tickSize":8}},
    "strokeDash":{"field":"Sample","type":"nominal","scale":{"domain":["W1","W2","W3","W4","W5","W6","W7","W8"],"range":[[1,0],[8,4],[4,3],[10,3,3,3],[10,3,2,2],[1,0],[8,4,3,4],[4,4]]},"legend":null}}},
  {"mark":{"type":"point","filled":false,"color":"black","size":60,"strokeWidth":1.3,"opacity":1},
   "encoding":{"x":{"field":"Replicate","type":"quantitative","scale":{"domain":[-0.056,8.477],"nice":false,"zero":false},"axis":{"orient":"bottom","values":[0,4,8],"tickSize":6,"labelPadding":5,"title":"Replicate","titleX":387,"titleY":55,"titleAngle":0,"titleBaseline":"alphabetic","titleAlign":"center","titleFontSize":22,"titleFontWeight":"bold"}},
    "y":{"field":"Response","type":"quantitative","scale":{"domain":[-280,3216],"nice":false,"zero":false},"axis":{"orient":"left","values":[0,1000,2000],"format":"d","title":null,"tickSize":8}},
    "shape":{"field":"Sample","type":"nominal","scale":{"domain":["W1","W2","W3","W4","W5","W6","W7","W8"],"range":["circle","square","diamond","triangle-up","triangle-right","triangle-left","triangle-down","M-1,0H1M0,-1V1"]},"legend":null}}},
  {"data":{"values":[{"Panel":"ZZ"}]},"mark":{"type":"rule","color":"black","strokeWidth":1.5},
   "encoding":{"y":{"datum":2768,"type":"quantitative","scale":{"domain":[-280,3216],"nice":false,"zero":false},"axis":{"orient":"left","values":[0,1000,2000],"format":"d","title":null,"tickSize":8}}}},
  {"data":{"values":[{"Panel":"ZZ"}]},"mark":{"type":"text","font":"DejaVu Sans","fontSize":15,"color":"black","baseline":"middle","align":"center"},
   "encoding":{"x":{"datum":4.21,"type":"quantitative","scale":{"domain":[-0.056,8.477],"nice":false,"zero":false},"axis":{"orient":"bottom","values":[0,4,8],"tickSize":6,"labelPadding":5,"title":"Replicate","titleX":387,"titleY":55,"titleAngle":0,"titleBaseline":"alphabetic","titleAlign":"center","titleFontSize":22,"titleFontWeight":"bold"}},"y":{"datum":2992,"type":"quantitative","scale":{"domain":[-280,3216],"nice":false,"zero":false},"axis":{"orient":"left","values":[0,1000,2000],"format":"d","title":null,"tickSize":8}},"text":{"field":"Panel"}}}
 ]}
]
}
